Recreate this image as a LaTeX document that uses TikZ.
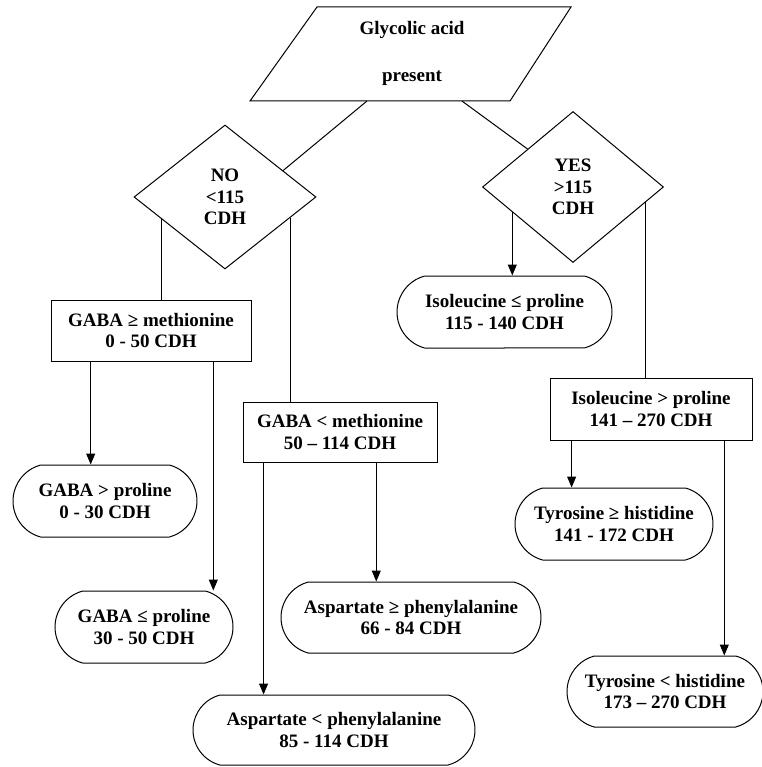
\documentclass[tikz,border=0pt]{standalone}
\usepackage{fontspec}
\setmainfont{Liberation Serif}
\usetikzlibrary{shapes.geometric,shapes.misc,arrows.meta,calc}

\begin{document}
\begin{tikzpicture}[x=1pt,y=-1pt,
  every node/.style={font=\bfseries\fontsize{19}{21.5}\selectfont, align=center, inner sep=0pt},
  line/.style={draw, line width=1pt},
  arr/.style={line, -{Triangle[length=11pt,width=9pt]}},
  decision/.style={diamond, draw, line width=1pt},
  stepbox/.style={rectangle, draw, line width=1pt},
  stadium/.style={rounded rectangle, rounded rectangle arc length=150, draw, line width=1pt}
]
\useasboundingbox (0,0) rectangle (761,767);

% input parallelogram
\coordinate (ptl) at (317,7);
\coordinate (ptr) at (571,7);
\coordinate (pbr) at (510,101);
\coordinate (pbl) at (250,101);
\draw[line] (ptl) -- (ptr) -- (pbr) -- (pbl) -- cycle;
\node (gly) at (412,30) {Glycolic acid};
\node (pres) at (412,78) {present};
\coordinate (gpL) at ($(pbl)!0.45!(pbr)$);
\coordinate (gpR) at ($(pbl)!0.815!(pbr)$);

% decisions
\node[decision, minimum width=182pt, minimum height=144pt] (no) at (225,197) {NO\\<115\\CDH};
\node[decision, minimum width=181pt, minimum height=151pt] (yes) at (573,187) {YES\\>115\\CDH};

% process boxes
\node[stepbox, minimum width=200pt, minimum height=61pt] (b1) at (151,330.5) {GABA ≥ methionine\\0 - 50 CDH};
\node[stepbox, minimum width=194pt, minimum height=60pt] (b2) at (340,432) {GABA < methionine\\50 – 114 CDH};
\node[stepbox, minimum width=202pt, minimum height=62pt] (b3) at (651,409) {Isoleucine > proline\\141 – 270 CDH};

% outcomes
\node[stadium, minimum width=184pt, minimum height=72pt] (s1) at (105,501) {GABA > proline\\0 - 30 CDH};
\node[stadium, minimum width=178pt, minimum height=72pt] (s2) at (144,627) {GABA ≤ proline\\30 - 50 CDH};
\node[stadium, minimum width=260pt, minimum height=71pt] (s3) at (411,617.5) {Aspartate ≥ phenylalanine\\66 - 84 CDH};
\node[stadium, minimum width=282pt, minimum height=70pt] (s4) at (334,730) {Aspartate < phenylalanine\\85 - 114 CDH};
\node[stadium, minimum width=215pt, minimum height=72pt] (s5) at (504.5,312) {Isoleucine ≤ proline\\115 - 140 CDH};
\node[stadium, minimum width=198pt, minimum height=72pt] (s6) at (614,524) {Tyrosine ≥ histidine\\141 - 172 CDH};
\node[stadium, minimum width=196pt, minimum height=71pt] (s7) at (665,691.5) {Tyrosine < histidine\\173 – 270 CDH};

% attachment points
\coordinate (noA) at ($(no.north east)!0.27!(no.east)$);
\coordinate (noL) at ($(no.west)!0.31!(no.south)$);
\coordinate (noR) at ($(no.east)!0.286!(no.south)$);
\coordinate (yesL) at ($(yes.west)!0.333!(yes.south)$);
\coordinate (yesR) at ($(yes.east)!0.2!(yes.south)$);
\coordinate (b1L) at ($(b1.south west)!0.2!(b1.south east)$);
\coordinate (b1R) at ($(b1.south west)!0.81!(b1.south east)$);
\coordinate (b2L) at ($(b2.south west)!0.108!(b2.south east)$);
\coordinate (b2R) at ($(b2.south west)!0.686!(b2.south east)$);
\coordinate (b3L) at ($(b3.south west)!0.109!(b3.south east)$);
\coordinate (b3R) at ($(b3.south west)!0.861!(b3.south east)$);

% connectors
\draw[line] (gpL) -- (noA);
\draw[line] (gpR) -- (yes.north west);
\draw[line] (noL) -- (noL |- b1.north);
\draw[line] (noR) -- (noR |- b2.north);
\draw[arr] (yesL) -- (yesL |- s5.north);
\draw[line] (yesR) -- (yesR |- b3.north);
\draw[arr] (b1L) -- (b1L |- s1.north);
\draw[arr] (b1R) -- (b1R |- s2.north);
\draw[arr] (b2L) -- (b2L |- s4.north);
\draw[arr] (b2R) -- (b2R |- s3.north);
\draw[arr] (b3L) -- (b3L |- s6.north);
\draw[arr] (b3R) -- (b3R |- s7.north);
\end{tikzpicture}
\end{document}
